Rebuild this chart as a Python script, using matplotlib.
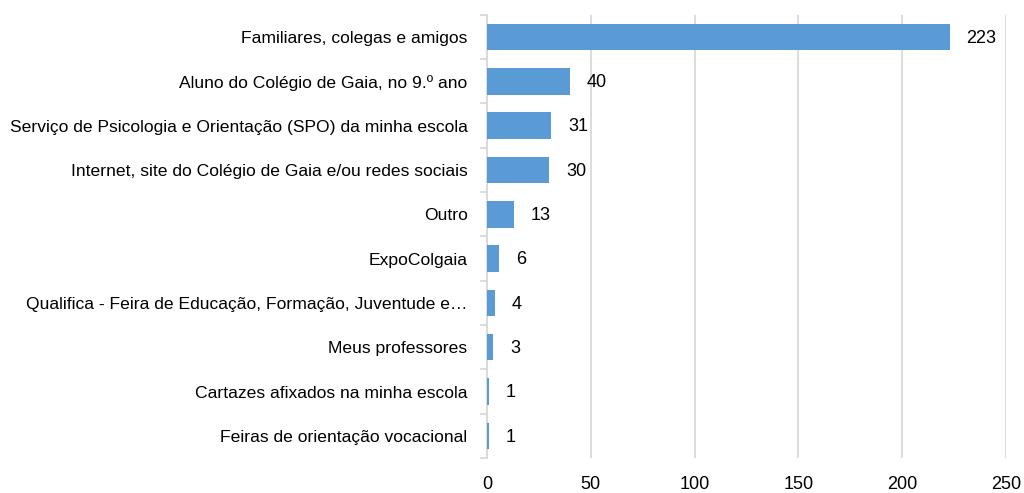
import matplotlib
matplotlib.use("Agg")
import matplotlib.pyplot as plt
from matplotlib import font_manager

# Datos (de arriba hacia abajo en el gráfico)
categorias = [
    "Familiares, colegas e amigos",
    "Aluno do Colégio de Gaia, no 9.º ano",
    "Serviço de Psicologia e Orientação (SPO) da minha escola",
    "Internet, site do Colégio de Gaia e/ou redes sociais",
    "Outro",
    "ExpoColgaia",
    "Qualifica - Feira de Educação, Formação, Juventude e…",
    "Meus professores",
    "Cartazes afixados na minha escola",
    "Feiras de orientação vocacional",
]
valores = [223, 40, 31, 30, 13, 6, 4, 3, 1, 1]
ticks_x = [0, 50, 100, 150, 200, 250]

disponibles = {f.name for f in font_manager.fontManager.ttflist}
fuente = "Liberation Sans Narrow" if "Liberation Sans Narrow" in disponibles else "Liberation Sans"
plt.rcParams["font.family"] = [fuente, "DejaVu Sans"]

color_barra = "#5B9BD5"
color_grid = "#D9D9D9"

fig = plt.figure(figsize=(10.24, 4.93), dpi=100)
ax = fig.add_axes([0.4756, 0.071, 0.5068, 0.899])

y = list(range(len(categorias)))
ax.barh(y, valores, height=0.6, color=color_barra, zorder=3)
ax.set_ylim(len(categorias) - 0.5, -0.5)
ax.set_xlim(0, 250)
ax.set_xticks(ticks_x)
ax.set_xticklabels([str(t) for t in ticks_x], fontsize=13)
ax.set_yticks(y)
ax.set_yticklabels(categorias, fontsize=12.6)

# rejilla vertical
ax.grid(axis="x", color=color_grid, linewidth=1.3, zorder=0)
for s in ["top", "right", "bottom"]:
    ax.spines[s].set_visible(False)
ax.spines["left"].set_color(color_grid)
ax.spines["left"].set_linewidth(1.3)
ax.tick_params(axis="x", length=0, pad=13)
ax.tick_params(axis="y", length=0, pad=14)

# marcas entre categorías (estilo Excel)
for b in [i - 0.5 for i in range(len(categorias) + 1)]:
    ax.plot([-0.012, 0], [b, b], transform=ax.get_yaxis_transform(),
            color=color_grid, linewidth=1.3, clip_on=False)

for yi, v in zip(y, valores):
    ax.annotate(str(v), (v, yi), xytext=(12, -1), textcoords="offset points",
                va="center", ha="left", fontsize=13, color="black")

fig.savefig("out.png", dpi=100)
